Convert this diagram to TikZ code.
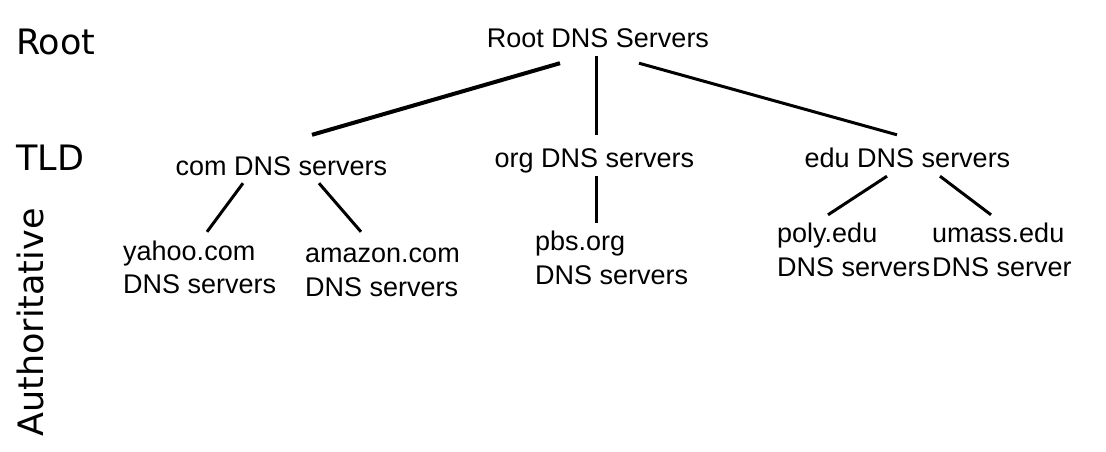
\documentclass[tikz,border=0pt]{standalone}
\usepackage{fontspec}
\setmainfont{Liberation Sans}
\newfontfamily\comicfont{DejaVu Sans}
\begin{document}
\begin{tikzpicture}[x=1pt,y=-1pt,
  lbl/.style={inner sep=0pt, font=\fontsize{27}{32}\selectfont, text height=20pt, text depth=6pt},
  lvl/.style={inner sep=0pt, font=\comicfont\fontsize{35}{40}\selectfont},
  edge/.style={line width=3pt},
  thickedge/.style={line width=4pt}]
\useasboundingbox[fill=white] (0,0) rectangle (1106,451);
% level labels
\node[lvl, anchor=base west] (lroot) at (16,54) {Root};
\node[lvl, anchor=base west] (ltld) at (16,170) {TLD};
\node[lvl, anchor=base west, rotate=90] (lauth) at (43,437) {Authoritative};
% root and TLD
\node[lbl, anchor=base] (root) at (598,47) {Root DNS Servers};
\node[lbl, anchor=base] (com) at (281.5,175) {com DNS servers};
\node[lbl, anchor=base] (org) at (594.5,167) {org DNS servers};
\node[lbl, anchor=base] (edu) at (907.5,167) {edu DNS servers};
% authoritative
\node[lbl, anchor=base west] (yahoo) at (123,260) {yahoo.com};
\node[lbl, anchor=base west] (yahoo2) at (123,293) {DNS servers};
\node[lbl, anchor=base west] (amazon) at (305,262) {amazon.com};
\node[lbl, anchor=base west] (amazon2) at (305,296) {DNS servers};
\node[lbl, anchor=base west] (pbs) at (535,250) {pbs.org};
\node[lbl, anchor=base west] (pbs2) at (535,284) {DNS servers};
\node[lbl, anchor=base west] (poly) at (777,242) {poly.edu};
\node[lbl, anchor=base west] (poly2) at (777,276) {DNS servers};
\node[lbl, anchor=base west] (umass) at (932,242) {umass.edu};
\node[lbl, anchor=base west] (umass2) at (932,276) {DNS server};
% connectors
\draw[thickedge] ([xshift=-38pt,yshift=-10pt]root.south) -- ([xshift=30.5pt,yshift=20pt]com.north);
\draw[edge] ([xshift=-2pt,yshift=-3pt]root.south) -- ([xshift=1.5pt,yshift=12pt]org.north);
\draw[edge] ([xshift=41pt,yshift=-10pt]root.south) -- ([xshift=-10.5pt,yshift=12pt]edu.north);
\draw[edge] ([xshift=-38.5pt,yshift=-2pt]com.south) -- ([xshift=84pt,yshift=8pt]yahoo.north west);
\draw[edge] ([xshift=37.5pt,yshift=-2pt]com.south) -- ([xshift=56pt,yshift=10pt]amazon.north west);
\draw[edge] ([xshift=1.5pt,yshift=-3pt]org.south) -- ([xshift=61pt,yshift=7pt]pbs.north west);
\draw[edge] ([xshift=-20.5pt,yshift=-3pt]edu.south) -- ([xshift=51pt,yshift=7pt]poly.north west);
\draw[edge] ([xshift=32.5pt,yshift=-3pt]edu.south) -- ([xshift=59pt,yshift=7pt]umass.north west);
\end{tikzpicture}
\end{document}
